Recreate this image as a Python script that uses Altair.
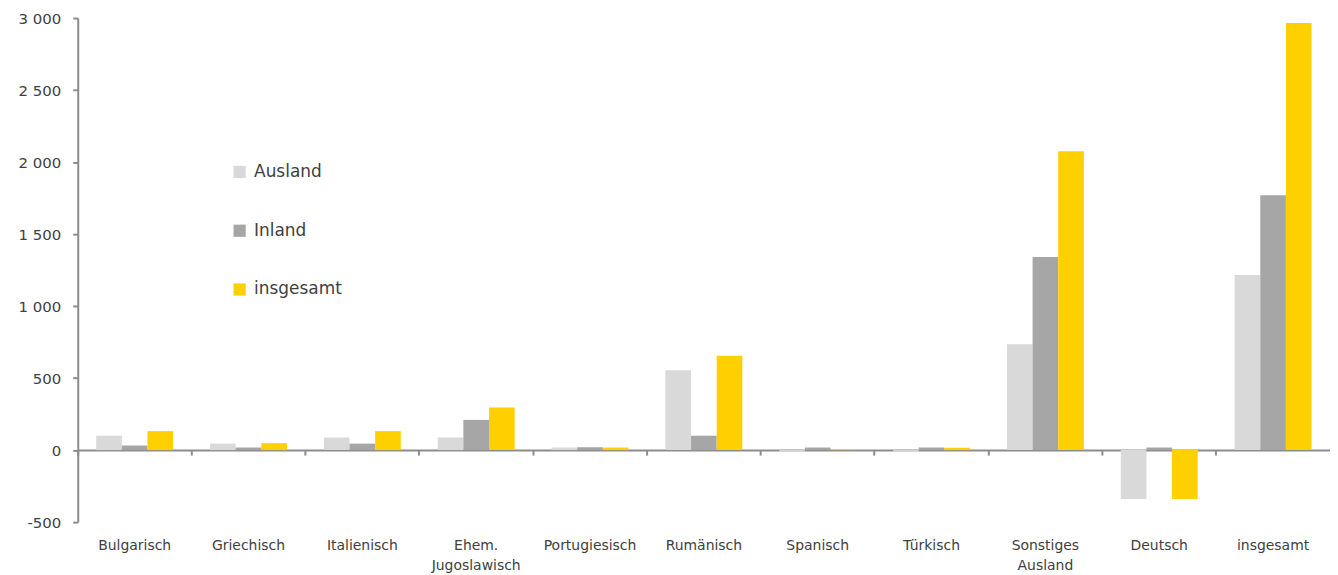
import altair as alt
import pandas as pd

categories = ["Bulgarisch", "Griechisch", "Italienisch", "Ehem. Jugoslawisch", "Portugiesisch",
              "Rumänisch", "Spanisch", "Türkisch", "Sonstiges Ausland", "Deutsch", "insgesamt"]
series = ["Ausland", "Inland", "insgesamt"]
ausland = [100, 45, 88, 88, 18, 555, -12, -12, 735, -340, 1215]
inland = [32, 18, 45, 210, 20, 100, 18, 18, 1340, 18, 1770]
gesamt = [132, 48, 132, 295, 18, 655, 4, 16, 2075, -340, 2965]
colors = ["#D9D9D9", "#A6A6A6", "#FFD000"]
y_ticks = [-500, 0, 500, 1000, 1500, 2000, 2500, 3000]

rows = []
for i, c in enumerate(categories):
    for s, vals in zip(series, [ausland, inland, gesamt]):
        rows.append({"Kategorie": c, "Serie": s, "Wert": vals[i]})
df = pd.DataFrame(rows)

FONT = "DejaVu Sans"
W, H = 1257, 506
ZERO_OFFSET = -(H * 500 / 3500)

x_scale = alt.Scale(domain=categories, paddingInner=0, paddingOuter=0)
y_scale = alt.Scale(domain=[-500, 3000], nice=False)

chart = alt.Chart(df).mark_bar().encode(
    x=alt.X("Kategorie:N", scale=x_scale, sort=categories,
            axis=alt.Axis(title=None, offset=ZERO_OFFSET, bandPosition=0,
                          domainColor="#8C8C8C", domainWidth=2, tickColor="#8C8C8C",
                          tickWidth=2, tickSize=5, labelAngle=0, labelPadding=84,
                          labelExpr="split(datum.label, ' ')", labelFontSize=14,
                          labelColor="#404040", labelFont=FONT, labelLineHeight=20,
                          labelBaseline="top")),
    xOffset=alt.XOffset("Serie:N", sort=series,
                        scale=alt.Scale(domain=series, paddingOuter=0.72, paddingInner=0)),
    y=alt.Y("Wert:Q", scale=y_scale,
            axis=alt.Axis(title=None, values=y_ticks, grid=False, domainColor="#8C8C8C",
                          domainWidth=2, tickColor="#8C8C8C", tickWidth=2, tickSize=5,
                          labelFontSize=15, labelColor="#404040", labelFont=FONT,
                          labelPadding=12, minExtent=70,
                          labelExpr="replace(replace(format(datum.value, ',d'), ',', ' '), '\u2212', '-')")),
    color=alt.Color("Serie:N", sort=series,
                    scale=alt.Scale(domain=series, range=colors),
                    legend=alt.Legend(title=None, orient="none", legendX=154, legendY=146,
                                      symbolType="square", symbolSize=150, symbolStrokeWidth=0,
                                      labelFontSize=17, labelFont=FONT, labelColor="#404040",
                                      rowPadding=41, labelOffset=6)),
).properties(
    width=W, height=H, padding={"left": 0, "top": 2, "right": 0, "bottom": 0}
).configure(font=FONT).configure_view(stroke="transparent", strokeWidth=0)

chart.save("out.html", embed_options={"renderer": "svg", "actions": False})
